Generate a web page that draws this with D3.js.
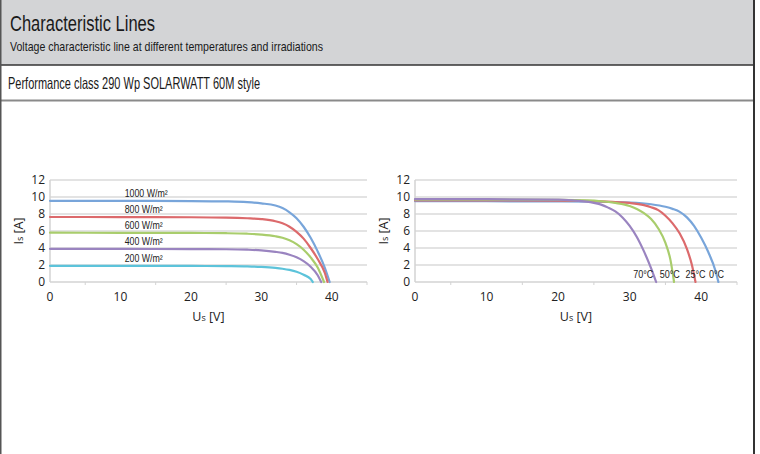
<!DOCTYPE html>
<html>
<head>
<meta charset="utf-8">
<script src="https://cdn.jsdelivr.net/npm/d3@7/dist/d3.min.js"></script>
<style>
  body { margin: 0; background: #fff; }
  svg { display: block; }
</style>
</head>
<body>
<div class="visualGraph"></div>
<script>
// irradiation curves (U [V], I [A]) at 25 °C
const irrLabels = ["1000 W/m²", "800 W/m²", "600 W/m²", "400 W/m²", "200 W/m²"];
const irrColors = ["#78a5da", "#dc6a6c", "#a9cd6c", "#9a84c0", "#5cc3da"];
const irr1000 = [[0,9.55],[10,9.54],[20,9.52],[25,9.48],[28,9.4],[30,9.25],[32,9.0],[33,8.7],[34,8.2],[35,7.5],[36,6.5],[37,5.2],[38,3.6],[39,1.7],[39.7,0]];
const irr800 = [[0,7.65],[10,7.64],[20,7.62],[25,7.58],[28,7.5],[30,7.4],[32,7.15],[33,6.9],[34,6.5],[35,5.9],[36,5.1],[37,4.0],[38,2.7],[39,1.1],[39.4,0]];
const irr600 = [[0,5.8],[10,5.79],[20,5.77],[25,5.74],[28,5.68],[30,5.58],[32,5.38],[33,5.2],[34,4.9],[35,4.45],[36,3.8],[37,2.9],[38,1.7],[38.9,0]];
const irr400 = [[0,3.9],[10,3.89],[20,3.87],[25,3.85],[28,3.8],[30,3.72],[32,3.55],[33,3.42],[34,3.2],[35,2.9],[36,2.45],[37,1.8],[38,0.8],[38.5,0]];
const irr200 = [[0,1.9],[10,1.9],[20,1.89],[25,1.87],[28,1.84],[30,1.78],[32,1.66],[33,1.56],[34,1.42],[35,1.2],[36,0.85],[37,0.35],[37.3,0]];

// temperature curves (U [V], I [A]) at 1000 W/m²
const tempLabels = ["0°C", "25°C", "50°C", "70°C"];
const tempColors = ["#78a5da", "#dc6a6c", "#a9cd6c", "#9a84c0"];
const temp0 = [[0,9.5],[10,9.5],[20,9.48],[25,9.45],[30,9.35],[33,9.15],[35,8.85],[36,8.6],[37,8.25],[38,7.6],[39,6.6],[40,5.2],[41,3.5],[42,1.3],[42.4,0]];
const temp25 = [[0,9.6],[10,9.6],[20,9.58],[25,9.52],[28,9.4],[30,9.3],[32,9.05],[33,8.8],[34,8.45],[35,7.8],[36,6.9],[37,5.7],[38,3.9],[38.7,2.0],[39.2,0]];
const temp50 = [[0,9.7],[10,9.7],[20,9.66],[24,9.6],[26,9.5],[28,9.3],[30,8.95],[31,8.6],[32,8.1],[33,7.4],[34,6.3],[35,4.6],[35.7,2.6],[36.2,0]];
const temp70 = [[0,9.75],[10,9.74],[20,9.68],[22,9.6],[24,9.45],[25,9.3],[26,9.1],[27,8.75],[28,8.3],[29,7.6],[30,6.6],[31,5.3],[32,3.6],[33,1.6],[33.7,0]];
// where each temperature label ends (U [V])
const tempLabelU = [43.2, 40.6, 37.0, 33.3];

const xTicks = [0, 10, 20, 30, 40];
const xMinor = [5, 15, 25, 35, 45];
const yTicks = [0, 2, 4, 6, 8, 10, 12];

const W = 760, H = 454;
const sans = "'Liberation Sans', Arial, sans-serif";
const plain = "'Open Sans', 'Noto Sans', sans-serif";

const svg = d3.select(".visualGraph")
    .append("svg")
    .attr("width", W)
    .attr("height", H)
    .attr("viewBox", [0, 0, W, H]);

// squeeze a text so it looks like the condensed face of the original
function condense(sel, factor) {
    sel.each(function () {
        const w = this.getComputedTextLength();
        d3.select(this).attr("textLength", w * factor).attr("lengthAdjust", "spacingAndGlyphs");
    });
    return sel;
}

// header boxes
svg.append("rect").attr("x", 0).attr("y", 0).attr("width", 754).attr("height", 65).attr("fill", "#d3d4d6");
svg.append("line").attr("x1", 0).attr("x2", 755).attr("y1", 65).attr("y2", 65).attr("stroke", "#333").attr("stroke-width", 1.5);
svg.append("line").attr("x1", 0).attr("x2", 755).attr("y1", 100.5).attr("y2", 100.5).attr("stroke", "#8a8a8a").attr("stroke-width", 2);
svg.append("line").attr("x1", 0.75).attr("x2", 0.75).attr("y1", 0).attr("y2", H).attr("stroke", "#555").attr("stroke-width", 1.5);
svg.append("line").attr("x1", 754).attr("x2", 754).attr("y1", 0).attr("y2", H).attr("stroke", "#333").attr("stroke-width", 2);

svg.append("text").attr("x", 10).attr("y", 31)
    .style("font-family", sans).style("font-size", "22.5px").attr("fill", "#1a1a1a")
    .attr("textLength", 145).attr("lengthAdjust", "spacingAndGlyphs")
    .text("Characteristic Lines");
svg.append("text").attr("x", 10).attr("y", 51)
    .style("font-family", sans).style("font-size", "13px").attr("fill", "#1a1a1a")
    .attr("textLength", 313).attr("lengthAdjust", "spacingAndGlyphs")
    .text("Voltage characteristic line at different temperatures and irradiations");
svg.append("text").attr("x", 8).attr("y", 89)
    .style("font-family", sans).style("font-size", "16.5px").attr("fill", "#1a1a1a")
    .attr("textLength", 252).attr("lengthAdjust", "spacingAndGlyphs")
    .text("Performance class 290 Wp SOLARWATT 60M style");

// one chart panel
function drawPanel(x0, x1, series, colors) {
    const x = d3.scaleLinear().domain([0, 45]).range([x0, x1]);
    const y = d3.scaleLinear().domain([0, 12]).range([282, 180]);
    const g = svg.append("g");

    g.selectAll(".grid").data(yTicks.filter(d => d > 0)).join("line")
        .attr("x1", x(0)).attr("x2", x(45))
        .attr("y1", d => y(d)).attr("y2", d => y(d))
        .attr("stroke", "#dadada").attr("stroke-width", 1.5);

    g.append("line").attr("x1", x(0)).attr("x2", x(0)).attr("y1", y(12)).attr("y2", y(0))
        .attr("stroke", "#d3d3d3").attr("stroke-width", 1.5);
    g.append("line").attr("x1", x(0)).attr("x2", x(45)).attr("y1", y(0)).attr("y2", y(0))
        .attr("stroke", "#d3d3d3").attr("stroke-width", 1.5);
    g.selectAll(".minor").data(xMinor).join("line")
        .attr("x1", d => x(d)).attr("x2", d => x(d))
        .attr("y1", y(0)).attr("y2", y(0) + 3)
        .attr("stroke", "#d3d3d3").attr("stroke-width", 1);

    g.selectAll(".ytl").data(yTicks).join("text")
        .attr("x", x(0) - 5).attr("y", d => y(d)).attr("dy", "0.35em")
        .attr("text-anchor", "end")
        .style("font-family", plain).style("font-size", "12px").attr("fill", "#222")
        .text(d => d);
    g.selectAll(".xtl").data(xTicks).join("text")
        .attr("x", d => x(d)).attr("y", y(0) + 15).attr("dy", "0.35em")
        .attr("text-anchor", "middle")
        .style("font-family", plain).style("font-size", "12px").attr("fill", "#222")
        .text(d => d);

    const line = d3.line().x(d => x(d[0])).y(d => y(d[1])).curve(d3.curveMonotoneX);
    g.selectAll(".curve").data(series).join("path")
        .attr("d", line)
        .attr("fill", "none")
        .attr("stroke", (d, i) => colors[i])
        .attr("stroke-width", 2.2)
        .attr("stroke-linecap", "round");

    // axis titles with subscript s
    const xt = g.append("text").attr("x", x(22.5)).attr("y", 321).attr("text-anchor", "middle")
        .style("font-family", plain).style("font-size", "12.5px").attr("fill", "#222");
    xt.append("tspan").text("U");
    xt.append("tspan").style("font-size", "9px").text("s");
    xt.append("tspan").text(" [V]");

    const yt = g.append("text")
        .attr("transform", `translate(${x0 - 27},231) rotate(-90)`)
        .attr("text-anchor", "middle")
        .style("font-family", plain).style("font-size", "12.5px").attr("fill", "#222");
    yt.append("tspan").text("I");
    yt.append("tspan").style("font-size", "9px").text("s");
    yt.append("tspan").text(" [A]");

    return { g, x, y };
}

const irrSeries = [irr1000, irr800, irr600, irr400, irr200];
const left = drawPanel(50, 367, irrSeries, irrColors);
const irrText = left.g.selectAll(".irrlab").data(irrLabels).join("text")
    .attr("x", left.x(10.6))
    .attr("y", (d, i) => left.y(irrSeries[i][0][1]) - 4)
    .style("font-family", sans).style("font-size", "10px").attr("fill", "#222")
    .text(d => d);
condense(irrText, 0.88);

// draw from 0°C upward so 70°C lies on top
const tempSeries = [temp0, temp25, temp50, temp70];
const right = drawPanel(415, 737, tempSeries, tempColors);
const tempText = right.g.selectAll(".templab").data(tempLabels).join("text")
    .attr("x", (d, i) => right.x(tempLabelU[i]))
    .attr("y", 278)
    .attr("text-anchor", "end")
    .style("font-family", sans).style("font-size", "10px").attr("fill", "#222")
    .text(d => d);
condense(tempText, 0.9);
</script>
</body>
</html>
